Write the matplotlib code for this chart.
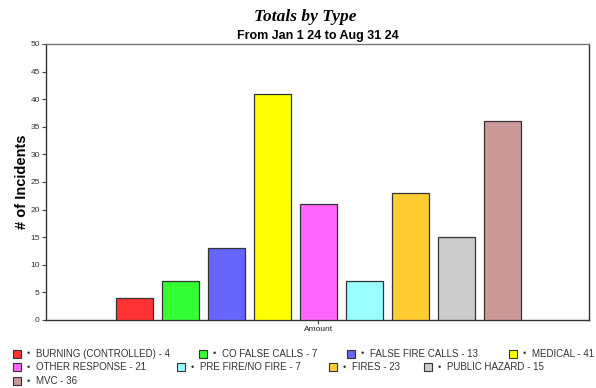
import matplotlib
matplotlib.use("Agg")
import matplotlib.pyplot as plt
from matplotlib.patches import Rectangle

# Incident totals by type
categories = ["BURNING (CONTROLLED)", "CO FALSE CALLS", "FALSE FIRE CALLS", "MEDICAL",
              "OTHER RESPONSE", "PRE FIRE/NO FIRE", "FIRES", "PUBLIC HAZARD", "MVC"]
values = [4, 7, 13, 41, 21, 7, 23, 15, 36]
colors = ["#FF3333", "#33FF33", "#6666FF", "#FFFF00", "#FF66FF",
          "#99FFFF", "#FFCC33", "#CCCCCC", "#CC9999"]
y_ticks = [0, 5, 10, 15, 20, 25, 30, 35, 40, 45, 50]
group_label = "Amount"

W, H = 596, 388
fig = plt.figure(figsize=(W / 100, H / 100), dpi=100)
ax = fig.add_axes([46 / W, 1 - 320 / H, (589 - 46) / W, (320 - 44) / H])

n = len(values)
xs = [i - (n - 1) / 2 for i in range(n)]
ax.bar(xs, values, width=0.8, color=colors, edgecolor="#333333", linewidth=0.9, zorder=3)
ax.set_xlim(-5.92, 5.88)
ax.set_ylim(0, 50)
ax.set_yticks(y_ticks)
ax.set_yticklabels([str(v) for v in y_ticks], fontsize=6, color="#333333",
                   family="Liberation Sans")
ax.set_xticks([0])
ax.set_xticklabels([group_label], fontsize=6, color="#222222", family="Liberation Sans")
ax.tick_params(axis="both", length=3, width=0.8, color="#444444", pad=1.5)
for side in ["left", "bottom", "right"]:
    ax.spines[side].set_color("#333333")
    ax.spines[side].set_linewidth(1.0)
ax.spines["top"].set_color("#777777")
ax.spines["top"].set_linewidth(1.0)

fig.text(22 / W, 1 - 182 / H, "# of Incidents", rotation=90, ha="center", va="center",
         fontsize=10.5, fontweight="bold", family="Liberation Sans")

fig.text(305 / W, 1 - 17 / H, "Totals by Type", ha="center", va="center",
         family="Liberation Serif", fontweight="bold", style="italic", fontsize=12.5)
fig.text(318 / W, 1 - 36 / H, "From Jan 1 24 to Aug 31 24", ha="center", va="center",
         family="Liberation Sans", fontweight="bold", fontsize=9)

# Legend laid out in flowing rows
legend_pos = [(13, 354), (199, 354), (347, 354), (509, 354),
              (13, 367), (177, 367), (329, 367), (424, 367),
              (13, 381)]
for (px, py), name, val, col in zip(legend_pos, categories, values, colors):
    fig.patches.append(Rectangle((px / W, 1 - (py + 4) / H), 8 / W, 8 / H,
                                 transform=fig.transFigure, facecolor=col,
                                 edgecolor="#333333", linewidth=0.8))
    fig.text((px + 15) / W, 1 - py / H, "\u2022", ha="center", va="center",
             fontsize=6.5, color="#333333", family="Liberation Sans")
    fig.text((px + 23) / W, 1 - py / H, f"{name} - {val}", ha="left", va="center",
             fontsize=7.0, color="#333333", family="Liberation Sans")

fig.savefig("out.png", dpi=100)
